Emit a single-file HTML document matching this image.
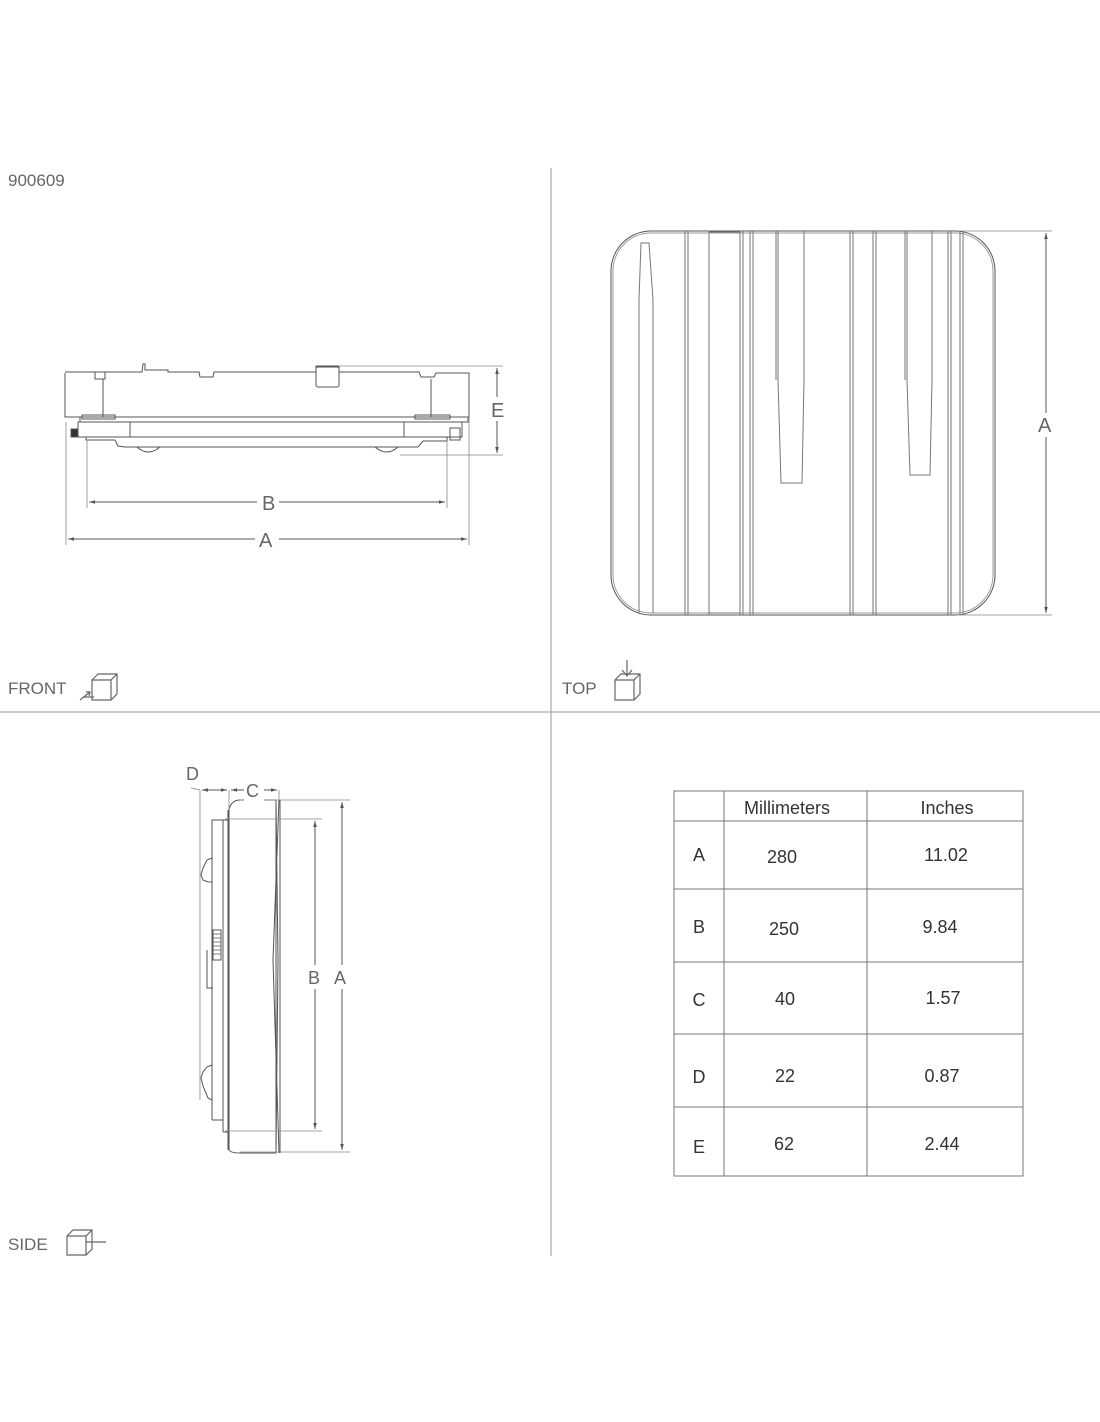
<!DOCTYPE html>
<html><head><meta charset="utf-8"><style>
html,body{margin:0;padding:0;background:#fff;}
svg{display:block;font-family:"Liberation Sans",sans-serif;}
</style></head><body>
<svg width="1100" height="1422" viewBox="0 0 1100 1422" xmlns="http://www.w3.org/2000/svg">
<defs>
<marker id="ar" viewBox="0 0 10 10" refX="10" refY="5" markerWidth="6" markerHeight="6" orient="auto-start-reverse"><path d="M0,2 L10,5 L0,8 z" fill="#555"/></marker>
</defs>
<g fill="#666" font-size="17">
<text x="8" y="186">900609</text>
<text x="8" y="694">FRONT</text>
<text x="562" y="694">TOP</text>
<text x="8" y="1250">SIDE</text>
</g>
<line x1="551" y1="168" x2="551" y2="1256" stroke="#999" stroke-width="1"/>
<line x1="0" y1="712" x2="1100" y2="712" stroke="#999" stroke-width="1"/>

<g fill="none" stroke="#666" stroke-width="1.2">
<path d="M92,680 L98,674 L117,674 L117,694 L111,700 L92,700 Z M92,680 L111,680 L117,674 M111,680 L111,700"/>
<path d="M80,700 L90,692 M86,692 L90,692 L89,696 M83,697 L94,697"/>
<path d="M615,680 L621,674 L640,674 L640,694 L634,700 L615,700 Z M615,680 L634,680 L640,674 M634,680 L634,700"/>
<path d="M627,660 L627,676 M622,670 L627,676 L632,670"/>
<path d="M67,1236 L73,1230 L92,1230 L92,1249 L86,1255 L67,1255 Z M67,1236 L86,1236 L92,1230 M86,1236 L86,1255 M86,1242 L106,1242"/>
</g>

<g fill="none" stroke="#555" stroke-width="1">
<path d="M65,373 L65,417 L469,417 L469,373 L436,373 L434,377 L421,377 L419,372 L339,372 L339,366 L316,366 L316,372 L214,372 L213,377 L200,377 L199,372 L168,372 L168,370 L145,370 L145,364 L143,364 L142,372 L65,372"/>
<rect x="316" y="367" width="23" height="20" rx="2"/>
<path d="M95,372 L95,379 L105,379 L105,372 M103,379 L103,417 M431,379 L431,417"/>
<path d="M80,417 L80,422 L468,422 L468,417"/>
<rect x="78" y="422" width="384" height="15"/>
<path d="M130,422 L130,437 M404,422 L404,437"/>
<path d="M86,437 L86,440 L115,440 L118,446 L125,447 L418,447 L423,441 L447,441 L447,437"/>
<path d="M137,447 Q148,457 160,447 M375,447 Q387,457 398,447"/>
<rect x="71" y="429" width="7" height="8" fill="#333"/>
<rect x="450" y="428" width="10" height="12"/>
<path d="M82,415 L82,419 L115,419 L115,415 Z M415,415 L415,419 L450,419 L450,415 Z"/>
</g>
<g stroke="#888" stroke-width="0.8" fill="none">
<line x1="66" y1="422" x2="66" y2="545"/>
<line x1="469" y1="417" x2="469" y2="545"/>
<line x1="87" y1="440" x2="87" y2="508"/>
<line x1="447" y1="441" x2="447" y2="508"/>
<line x1="339" y1="366" x2="503" y2="366"/>
<line x1="400" y1="455" x2="503" y2="455"/>
</g>
<g stroke="#555" stroke-width="1">
<line x1="497" y1="368" x2="497" y2="453" marker-start="url(#ar)" marker-end="url(#ar)"/>
<line x1="89" y1="502" x2="445" y2="502" marker-start="url(#ar)" marker-end="url(#ar)"/>
<line x1="68" y1="539" x2="467" y2="539" marker-start="url(#ar)" marker-end="url(#ar)"/>
</g>
<g fill="#666" font-size="20">
<rect x="257" y="490" width="22" height="24" fill="#fff"/>
<text x="262" y="510">B</text>
<rect x="255" y="527" width="24" height="24" fill="#fff"/>
<text x="259" y="547">A</text>
<rect x="489" y="397" width="18" height="24" fill="#fff"/>
<text x="491" y="417">E</text>
</g>

<g fill="none" stroke="#555" stroke-width="1">
<rect x="611" y="231" width="384" height="384" rx="40"/>
<rect x="613" y="233" width="380" height="380" rx="38" stroke="#999"/>
<g stroke="#777">
<path d="M639,613 L639,300 L641,243 L649,243 L653,300 L653,613"/>
<path d="M685,231 L685,615 M688,231 L688,615"/>
<path d="M709,231 L709,615 M740,231 L740,615 M709,232 L740,232 M709,613 L740,613 M743,231 L743,615"/>
<path d="M750,231 L750,615 M753,231 L753,615"/>
<path d="M778,231 L778,380 L781,483 L802,483 L804,380 L804,231 M776,231 L776,380"/>
<path d="M850,231 L850,615 M853,231 L853,615"/>
<path d="M873,231 L873,615 M876,231 L876,615"/>
<path d="M907,231 L907,380 L910,475 L930,475 L932,380 L932,231 M905,231 L905,380"/>
<path d="M948,231 L948,615 M951,231 L951,615"/>
<path d="M960,231 L960,615 M963,231 L963,615"/>
</g>
</g>
<g stroke="#888" stroke-width="0.8">
<line x1="960" y1="231" x2="1052" y2="231"/>
<line x1="960" y1="615" x2="1052" y2="615"/>
</g>
<line x1="1046" y1="233" x2="1046" y2="613" stroke="#555" stroke-width="1" marker-start="url(#ar)" marker-end="url(#ar)"/>
<rect x="1036" y="413" width="20" height="24" fill="#fff"/>
<text x="1038" y="432" fill="#666" font-size="20">A</text>

<g fill="none" stroke="#555" stroke-width="1">
<path d="M229,1150 L229,810 Q231,800 240,800 L276,800 L276,1153 L240,1153 Q231,1153 229,1150 Z"/>
<path d="M228,1150 L228,810 M223,1132 L223,820 L229,820 M223,1132 L229,1132"/>
<path d="M212,1120 L212,820 L223,820 M212,1120 L223,1120"/>
<path d="M212,858 L207,860 L203,868 L201,875 L203,880 L208,882 L212,882"/>
<path d="M212,1065 L207,1067 L203,1072 L201,1078 L203,1086 L208,1098 L212,1100"/>
<path d="M276,800 L278,960 L276,1153 M280,800 L280,960 L280,1153 M279,800 L273,960 L279,1153"/>
<path d="M207,950 L207,988 L213,988"/>
</g>
<rect x="213" y="930" width="8" height="30" fill="none" stroke="#555"/>
<g stroke="#555" stroke-width="0.7"><path d="M213,934 h8 M213,938 h8 M213,942 h8 M213,946 h8 M213,950 h8 M213,954 h8"/></g>
<g stroke="#888" stroke-width="0.8">
<line x1="200" y1="790" x2="200" y2="1100"/>
<line x1="229" y1="790" x2="229" y2="810"/>
<line x1="279" y1="790" x2="279" y2="800"/>
<line x1="240" y1="800" x2="350" y2="800"/>
<line x1="240" y1="1152" x2="350" y2="1152"/>
<line x1="225" y1="819" x2="322" y2="819"/>
<line x1="225" y1="1131" x2="322" y2="1131"/>
<line x1="191" y1="788" x2="200" y2="790"/>
</g>
<g stroke="#555" stroke-width="1">
<line x1="202" y1="790" x2="227" y2="790" marker-start="url(#ar)" marker-end="url(#ar)"/>
<line x1="231" y1="790" x2="277" y2="790" marker-start="url(#ar)" marker-end="url(#ar)"/>
<line x1="342" y1="802" x2="342" y2="1150" marker-start="url(#ar)" marker-end="url(#ar)"/>
<line x1="315" y1="821" x2="315" y2="1129" marker-start="url(#ar)" marker-end="url(#ar)"/>
</g>
<rect x="244" y="779" width="20" height="22" fill="#fff"/>
<rect x="305" y="965" width="46" height="24" fill="#fff"/>
<g fill="#666" font-size="18">
<text x="186" y="780">D</text>
<text x="246" y="797">C</text>
<text x="308" y="984">B</text>
<text x="334" y="984">A</text>
</g>

<g fill="none" stroke="#777" stroke-width="1">
<rect x="674" y="791" width="349" height="385"/>
<line x1="724" y1="791" x2="724" y2="1176"/>
<line x1="867" y1="791" x2="867" y2="1176"/>
<line x1="674" y1="821" x2="1023" y2="821"/>
<line x1="674" y1="889" x2="1023" y2="889"/>
<line x1="674" y1="962" x2="1023" y2="962"/>
<line x1="674" y1="1034" x2="1023" y2="1034"/>
<line x1="674" y1="1107" x2="1023" y2="1107"/>
</g>
<g fill="#333" font-size="18" text-anchor="middle">
<text x="787" y="814">Millimeters</text>
<text x="947" y="814">Inches</text>
<text x="699" y="861">A</text><text x="782" y="863">280</text><text x="946" y="861">11.02</text>
<text x="699" y="933">B</text><text x="784" y="935">250</text><text x="940" y="933">9.84</text>
<text x="699" y="1006">C</text><text x="785" y="1005">40</text><text x="943" y="1004">1.57</text>
<text x="699" y="1083">D</text><text x="785" y="1082">22</text><text x="942" y="1082">0.87</text>
<text x="699" y="1153">E</text><text x="784" y="1150">62</text><text x="942" y="1150">2.44</text>
</g>
</svg>
</body></html>
